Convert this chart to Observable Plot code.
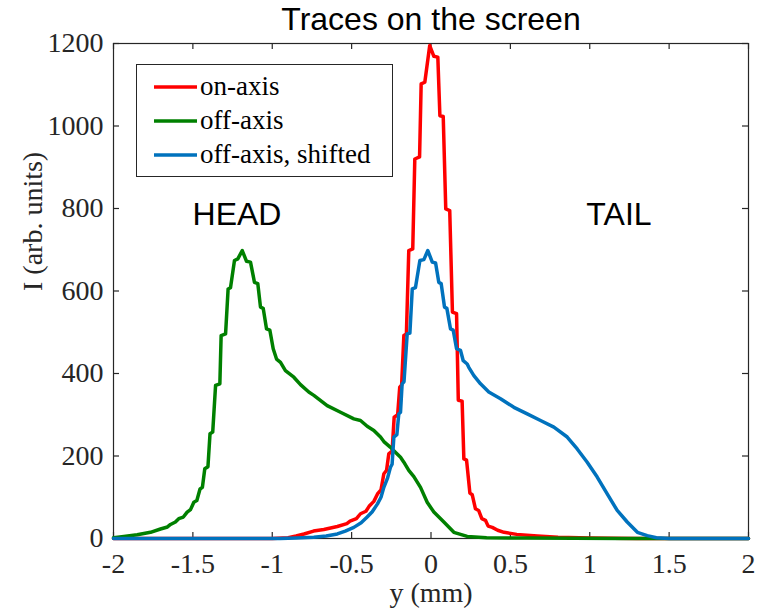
<!DOCTYPE html>
<html><head><meta charset="utf-8">
<script src="https://cdn.jsdelivr.net/npm/d3@7"></script>
<script src="https://cdn.jsdelivr.net/npm/@observablehq/plot@0.6"></script>
<style>body{margin:0;background:#fff}</style>
</head><body><div id="chart"></div>
<script>
// ---- data ----
const onAxisX = [-2, -1.0, -0.9, -0.85, -0.8, -0.74, -0.675, -0.59, -0.53, -0.51, -0.47, -0.444, -0.41, -0.39, -0.36, -0.337, -0.315, -0.297, -0.28, -0.266, -0.245, -0.232, -0.21, -0.197, -0.185, -0.171, -0.155, -0.14, -0.115, -0.102, -0.072, -0.062, -0.039, -0.008, 0.018, 0.043, 0.056, 0.077, 0.093, 0.118, 0.135, 0.161, 0.172, 0.196, 0.207, 0.224, 0.245, 0.26, 0.28, 0.30, 0.32, 0.343, 0.36, 0.386, 0.42, 0.46, 0.54, 0.67, 0.8, 1.0, 1.3, 2];
const onAxisY = [0, 0, 2, 6, 11, 18, 22, 29, 36, 42, 48, 60, 66, 78, 90, 108, 118, 157, 165, 205, 212, 294, 300, 367, 372, 492, 496, 698, 702, 920, 925, 1102, 1106, 1195, 1169, 1167, 1025, 1023, 799, 795, 549, 545, 335, 333, 193, 190, 110, 106, 72, 68, 48, 44, 30, 27, 20, 15, 10, 6, 3, 1, 0, 0];

const offAxisX = [-2, -1.935, -1.851, -1.767, -1.704, -1.66, -1.641, -1.61, -1.589, -1.56, -1.536, -1.515, -1.494, -1.475, -1.455, -1.44, -1.425, -1.405, -1.392, -1.375, -1.357, -1.33, -1.322, -1.294, -1.278, -1.263, -1.238, -1.217, -1.189, -1.162, -1.137, -1.112, -1.091, -1.074, -1.057, -1.036, -1.015, -0.994, -0.973, -0.948, -0.917, -0.864, -0.822, -0.77, -0.738, -0.654, -0.57, -0.486, -0.444, -0.402, -0.36, -0.318, -0.297, -0.255, -0.234, -0.192, -0.171, -0.14, -0.108, -0.066, -0.024, 0.018, 0.081, 0.144, 0.228, 0.35, 0.6, 1.2, 2];
const offAxisY = [2, 5, 9, 15, 23, 28, 34, 40, 48, 52, 64, 70, 88, 92, 120, 124, 169, 174, 254, 258, 371, 375, 492, 496, 605, 608, 674, 678, 698, 672, 670, 621, 618, 561, 558, 508, 505, 460, 435, 427, 407, 391, 373, 355, 347, 322, 306, 290, 286, 272, 262, 246, 235, 221, 213, 197, 185, 165, 150, 124, 88, 64, 40, 15, 5, 2, 1, 0, 0];

const shiftedX = [-2, -0.95, -0.85, -0.738, -0.66, -0.59, -0.54, -0.486, -0.44, -0.402, -0.37, -0.337, -0.315, -0.297, -0.275, -0.255, -0.245, -0.234, -0.215, -0.203, -0.192, -0.182, -0.17, -0.15, -0.133, -0.118, -0.098, -0.07, -0.045, -0.02, 0.008, 0.029, 0.049, 0.064, 0.085, 0.1, 0.123, 0.14, 0.161, 0.186, 0.203, 0.228, 0.238, 0.27, 0.312, 0.364, 0.438, 0.522, 0.606, 0.69, 0.774, 0.858, 0.921, 0.984, 1.047, 1.11, 1.173, 1.236, 1.3, 1.362, 1.42, 1.5, 2];
const shiftedY = [0, 0, 1, 3, 6, 11, 18, 27, 38, 52, 65, 84, 100, 124, 145, 173, 180, 246, 252, 302, 306, 375, 380, 496, 498, 605, 608, 674, 676, 698, 670, 668, 621, 618, 561, 558, 508, 505, 460, 456, 431, 423, 415, 395, 375, 355, 339, 318, 302, 286, 270, 246, 217, 185, 149, 108, 68, 40, 15, 7, 2, 0, 0];

const seriesNames = ["on-axis", "off-axis", "off-axis, shifted"];
const seriesColors = ["#ff0000", "#008000", "#0072bd"];
const xTicks = [-2, -1.5, -1, -0.5, 0, 0.5, 1, 1.5, 2];
const yTicks = [0, 200, 400, 600, 800, 1000, 1200];
const annotations = [{label: "HEAD", x: -1.222, y: 784}, {label: "TAIL", x: 1.184, y: 784}];
const titleText = "Traces on the screen";
const xLabel = "y (mm)";
const yLabel = "I (arb. units)";

// ---- build table ----
const seriesXY = [[onAxisX, onAxisY], [offAxisX, offAxisY], [shiftedX, shiftedY]];
const rows = [];
seriesXY.forEach(([xs, ys], i) => xs.forEach((x, j) => rows.push({series: seriesNames[i], x, y: ys[j]})));

const W = 761, H = 609, mL = 113, mR = 13, mT = 43, mB = 71;
const pw = W - mL - mR, ph = H - mT - mB, tick = 6;
const axisColor = "#262626";
const sans = "'Liberation Sans', Arial, sans-serif";
const serif = "'Liberation Serif', 'Times New Roman', serif";

const chart = Plot.plot({
  width: W, height: H,
  marginLeft: mL, marginRight: mR, marginTop: mT, marginBottom: mB,
  x: {domain: [-2, 2]},
  y: {domain: [0, 1200]},
  color: {domain: seriesNames, range: seriesColors},
  style: {fontFamily: serif, fontSize: "28px", background: "white", color: axisColor},
  marks: [
    Plot.frame({stroke: axisColor, strokeWidth: 1.2}),
    Plot.tickX(xTicks, {x: d => d, insetTop: ph - tick, stroke: axisColor, strokeWidth: 1.2}),
    Plot.tickX(xTicks, {x: d => d, insetBottom: ph - tick, stroke: axisColor, strokeWidth: 1.2}),
    Plot.tickY(yTicks, {y: d => d, insetRight: pw - tick, stroke: axisColor, strokeWidth: 1.2}),
    Plot.tickY(yTicks, {y: d => d, insetLeft: pw - tick, stroke: axisColor, strokeWidth: 1.2}),
    Plot.axisX({ticks: xTicks, tickSize: 0, tickPadding: 15, tickFormat: d => String(d), label: null, fill: axisColor}),
    Plot.axisY({ticks: yTicks, tickSize: 0, tickPadding: 10, tickFormat: d => String(d), label: null, fill: axisColor}),
    Plot.line(rows, {x: "x", y: "y", z: "series", stroke: "series", strokeWidth: 3.5, strokeLinejoin: "round"}),
    Plot.text([xLabel], {frameAnchor: "bottom", lineAnchor: "middle", dy: 55, fill: axisColor}),
    Plot.text([yLabel], {frameAnchor: "left", lineAnchor: "middle", dx: -80, rotate: -90, fill: axisColor}),
    Plot.text([titleText], {frameAnchor: "top", lineAnchor: "middle", dy: -24, fontSize: 32, fontFamily: sans, fill: "black"}),
    Plot.text(annotations, {x: "x", y: "y", text: "label", fontSize: 32, fontFamily: sans, fill: "black"})
  ]
});

// legend (decoration, drawn in pixel space)
const svg = d3.select(chart);
const g = svg.append("g");
g.append("rect").attr("x", 136.5).attr("y", 64.5).attr("width", 256).attr("height", 112)
  .attr("fill", "white").attr("stroke", axisColor).attr("stroke-width", 1);
seriesNames.forEach((name, i) => {
  const cy = 87 + i * 34;
  g.append("line").attr("x1", 154).attr("x2", 197).attr("y1", cy).attr("y2", cy)
    .attr("stroke", seriesColors[i]).attr("stroke-width", 3.5);
  g.append("text").attr("x", 200).attr("y", cy).attr("dy", "0.28em")
    .attr("text-anchor", "start").attr("font-size", 27).attr("font-family", serif)
    .attr("fill", "black").text(name);
});

document.getElementById("chart").appendChild(chart);
</script>
</body></html>
